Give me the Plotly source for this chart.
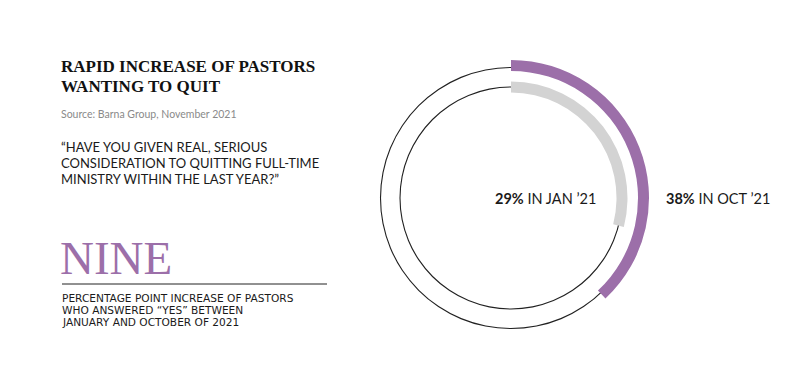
import plotly.graph_objects as go

# ---- data ----
periods = ["JAN ’21", "OCT ’21"]
shares = [29, 38]            # % of pastors answering "yes"
ring_colors = ["#d3d3d3", "#9c6fa9"]
increase_word = "NINE"

W, H = 800, 378
OX, OY = 8, 8                # page offset of the plot in the browser
cx, cy = 511 - OX, 198 - OY  # ring centre in px (from top-left of figure)
R = 140                      # polar radius in px

fig = go.Figure()

# thin reference circles (drawn as full-ring bars so the arcs cover them)
for rr in [111, 130.5]:
    fig.add_trace(go.Barpolar(r=[1.1], base=[rr - 0.55], theta=[180], width=[360],
                              marker=dict(color="#222222", line=dict(width=0)),
                              showlegend=False, hoverinfo="skip"))

# arcs from data
bases = [105.5, 127.0]
thick = [11, 11]
for v, col, b, t in zip(shares, ring_colors, bases, thick):
    fig.add_trace(go.Barpolar(r=[t], base=[b], theta=[v * 3.6 / 2], width=[v * 3.6],
                              marker=dict(color=col, line=dict(width=0)),
                              showlegend=False, hoverinfo="skip"))

fig.update_layout(
    width=W, height=H, margin=dict(l=0, r=0, t=0, b=0),
    paper_bgcolor="white", plot_bgcolor="white",
    polar=dict(
        domain=dict(x=[(cx - R) / W, (cx + R) / W], y=[(H - cy - R) / H, (H - cy + R) / H]),
        bgcolor="rgba(0,0,0,0)",
        radialaxis=dict(range=[0, R], visible=False),
        angularaxis=dict(direction="clockwise", rotation=90, visible=False),
    ),
)

sans = "Lato, Open Sans, sans-serif"
wide = "DejaVu Sans, sans-serif"
serif = "Liberation Serif, serif"

def ann(text, x, y, size, color="#1a1a1a", family=sans, xanchor="left", yanchor="middle"):
    fig.add_annotation(text=text, x=(x - OX) / W, y=1 - (y - OY) / H, xref="paper", yref="paper",
                       xanchor=xanchor, yanchor=yanchor, showarrow=False, align="left",
                       borderpad=0, font=dict(size=size, color=color, family=family))

ann("<b>RAPID INCREASE OF PASTORS</b>", 60, 66, 17, "#111111", serif)
ann("<b>WANTING TO QUIT</b>", 60, 87, 17, "#111111", serif)
ann("Source: Barna Group, November 2021", 60, 114, 10.5, "#8a8a8a")
ann("“HAVE YOU GIVEN REAL, SERIOUS", 60, 147, 13)
ann("CONSIDERATION TO QUITTING FULL-TIME", 60, 163, 13)
ann("MINISTRY WITHIN THE LAST YEAR?”", 60, 179, 13)
ann(increase_word, 59, 258, 47, ring_colors[1], serif)
ann("PERCENTAGE POINT INCREASE OF PASTORS", 61, 298, 10.6, family=wide)
ann("WHO ANSWERED “YES” BETWEEN", 61, 310, 10.6, family=wide)
ann("JANUARY AND OCTOBER OF 2021", 61, 322, 10.6, family=wide)

fig.add_shape(type="line", xref="paper", yref="paper", x0=(62 - OX) / W, x1=(327 - OX) / W,
              y0=1 - (284 - OY) / H, y1=1 - (284 - OY) / H, line=dict(color="#222222", width=1))

ann(f"<b>{shares[0]}%</b> IN {periods[0]}", 597, 198, 14.5, xanchor="right")
ann(f"<b>{shares[1]}%</b> IN {periods[1]}", 665, 198, 14.5, xanchor="left")

fig.write_html("out.html")
